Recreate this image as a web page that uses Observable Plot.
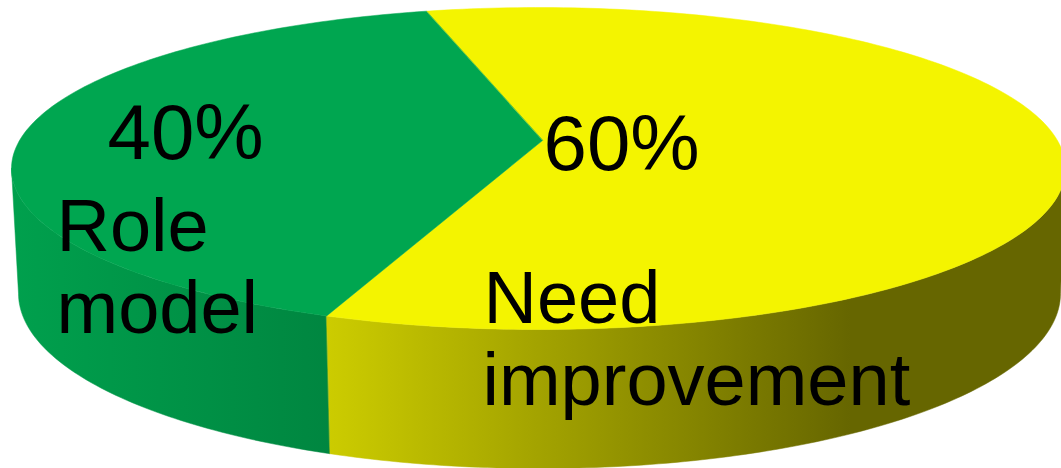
<!DOCTYPE html>
<html>
<head>
<meta charset="utf-8">
<style>
html,body{margin:0;padding:0;background:#fff;overflow:hidden}
svg{display:block}
</style>
<script src="https://cdn.jsdelivr.net/npm/d3@7"></script>
<script src="https://cdn.jsdelivr.net/npm/@observablehq/plot@0.6"></script>
</head>
<body>
<div id="chart"></div>
<script>
// Data
const categories = ["Role model", "Need improvement"];
const shares = [40, 60];
const percentLabels = ["40%", "60%"];
const nameLines = [["Role", "model"], ["Need", "improvement"]];

// Colours
const topGreen = "#00A650", topYellow = "#F4F400";

// Pie geometry (image units of the x and y scales)
const topRim = {cx: 538, cy: 168, rx: 527, ry: 161};
const bottomRim = {cx: 539, cy: 293, rx: 521, ry: 175};
const apex = {x: 542, y: 140};
const firstAngle = -12.3 - 3.6 * shares[0]; // degrees clockwise from the top of the ellipse

const total = d3.sum(shares);
const toPoint = (rim, deg) => {
  const a = deg * Math.PI / 180;
  return {x: rim.cx + rim.rx * Math.sin(a), y: rim.cy - rim.ry * Math.cos(a)};
};
const arc = (rim, from, to) => {
  const n = Math.max(2, Math.ceil(Math.abs(to - from)));
  return d3.range(n + 1).map(i => toPoint(rim, from + (to - from) * i / n));
};

const spans = [];
shares.reduce((start, v) => {
  const end = start + v / total * 360;
  spans.push([start, end]);
  return end;
}, firstAngle);

const topFace = i => [apex, ...arc(topRim, spans[i][0], spans[i][1])];
// visible wall: only the front half of the rim
const wall = (from, to) => [...arc(topRim, from, to), ...arc(bottomRim, to, from)];
const wallGreen = wall(-90, spans[0][0]);
const wallYellow = wall(spans[0][0], -270);

const poly = (data, fill) => Plot.line(data, {
  x: "x", y: "y", fill, stroke: fill, strokeWidth: 0.5, curve: "linear-closed"
});

const textOpts = size => ({
  x: "x", y: "y", text: "t", fontSize: size, fill: "#000",
  textAnchor: "start", lineAnchor: "bottom",
  fontFamily: "'Liberation Sans', Arial, sans-serif"
});
const percentMarks = [
  {t: percentLabels[0], x: 107, y: 158},
  {t: percentLabels[1], x: 543, y: 169}
];
const nameMarks = [
  {t: nameLines[0][0], x: 56, y: 250},
  {t: nameLines[0][1], x: 56, y: 332},
  {t: nameLines[1][0], x: 483, y: 322},
  {t: nameLines[1][1], x: 482, y: 404}
];

const plot = Plot.plot({
  width: 1061,
  height: 468,
  margin: 0,
  style: {background: "#fff"},
  x: {domain: [0, 1061], range: [0, 1061], axis: null},
  y: {domain: [0, 468], range: [0, 468], axis: null},
  marks: [
    poly(wallGreen, "url(#wallGreen)"),
    poly(wallYellow, "url(#wallYellow)"),
    poly(topFace(1), topYellow),
    poly(topFace(0), topGreen),
    Plot.text(percentMarks, textOpts(78)),
    Plot.text(nameMarks, textOpts(74))
  ]
});

// Wall shading: the gradients the fills above refer to
const defs = d3.create("svg:defs");
const gradient = (id, stops, x1, x2) => {
  const g = defs.append("linearGradient").attr("id", id)
    .attr("gradientUnits", "userSpaceOnUse")
    .attr("x1", x1).attr("x2", x2).attr("y1", 0).attr("y2", 0);
  stops.forEach(([o, c]) => g.append("stop").attr("offset", o).attr("stop-color", c));
};
gradient("wallGreen", [[0, "#00A04D"], [1, "#008640"]], 12, 330);
gradient("wallYellow", [[0, "#CCCC00"], [1, "#666600"]], 328, 850);
plot.insertBefore(defs.node(), plot.firstChild);

document.getElementById("chart").append(plot);
</script>
</body>
</html>
